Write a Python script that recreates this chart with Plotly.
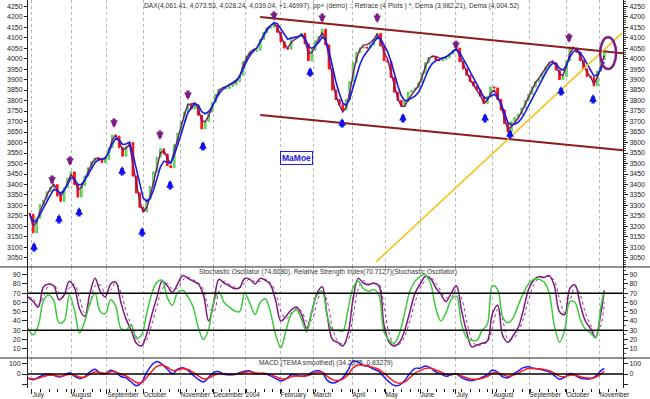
import plotly.graph_objects as go

# ---------------- data ----------------
price_day = list(range(1, 336, 2))
close = [3258, 3170, 3240, 3305, 3325, 3365, 3385, 3400, 3345, 3320,
         3385, 3430, 3460, 3400, 3340, 3395, 3440, 3480, 3510, 3525,
         3515, 3505, 3520, 3575, 3635, 3630, 3575, 3535, 3580, 3600,
         3440, 3360, 3290, 3270, 3330, 3390, 3460, 3530, 3570, 3545,
         3490, 3480, 3590, 3645, 3700, 3745, 3785, 3760, 3775, 3730,
         3665, 3700, 3745, 3790, 3830, 3855, 3855, 3858, 3868, 3875,
         3890, 3920, 3985, 4010, 4030, 4035, 4040, 4090, 4125, 4145,
         4150, 4160, 4125, 4080, 4050, 4045, 4100, 4100, 4105, 4120,
         4070, 3990, 4040, 4085, 4105, 4140, 4065, 3950, 3850, 3805,
         3780, 3755, 3805, 3890, 3980, 4030, 4050, 4055, 4050, 4065,
         4090, 4120, 4060, 3990, 3985, 3910, 3840, 3800, 3775, 3795,
         3840, 3848, 3860, 3885, 3930, 3980, 4005, 4005, 3995, 3990,
         3995, 4005, 4022, 4040, 4050, 3985, 3950, 3920, 3890, 3870,
         3850, 3820, 3785, 3820, 3865, 3860, 3805, 3755, 3690, 3650,
         3700, 3720, 3735, 3765, 3800, 3830, 3865, 3890, 3905, 3930,
         3960, 3978, 3980, 3945, 3900, 3915, 3990, 4055, 4050, 4030,
         3990, 3950, 3915, 3910, 3870, 3940, 3995, 4039]
first_open = 3262

osc_day = list(range(0, 334, 3)) + [335]
stoch_k = [66, 61, 55, 77, 80, 78, 63, 68, 83, 76,
           53, 45, 70, 86, 72, 66, 80, 82, 60, 42,
           30, 16, 13, 26, 47, 66, 83, 78, 71, 80,
           89, 86, 83, 80, 68, 40, 60, 85, 81, 78,
           75, 76, 86, 85, 80, 86, 84, 79, 62, 40,
           45, 52, 55, 47, 32, 50, 70, 77, 45, 20,
           17, 13, 26, 64, 86, 81, 79, 81, 78, 35,
           17, 13, 17, 30, 50, 70, 80, 88, 86, 76,
           69, 61, 70, 78, 52, 28, 12, 14, 16, 18,
           48, 57, 24, 17, 24, 33, 52, 74, 84, 88,
           87, 89, 78, 50, 47, 75, 79, 58, 40, 32,
           22, 48, 73]
rsi = [32, 25, 35, 62, 68, 62, 38, 40, 68, 52,
       27, 40, 59, 70, 50, 48, 63, 56, 32, 30,
       36, 21, 25, 48, 70, 82, 84, 65, 57, 71,
       73, 66, 55, 33, 20, 31, 61, 71, 60, 55,
       51, 50, 70, 59, 47, 60, 64, 49, 25, 11,
       30, 47, 52, 42, 28, 50, 68, 72, 45, 30,
       30, 29, 52, 76, 83, 75, 72, 74, 68, 28,
       19, 16, 27, 49, 72, 83, 88, 90, 81, 54,
       40, 49, 63, 67, 37, 22, 19, 19, 30, 36,
       78, 74, 44, 38, 43, 57, 70, 80, 85, 85,
       82, 70, 35, 17, 30, 61, 60, 42, 31, 27,
       22, 55, 73]
macd = [-40, -54, -33, -9, 0, -12, -29, -13, 13, -20,
        -43, -27, 20, 44, 6, 3, 35, 17, -23, -36,
        -75, -111, -80, 15, 85, 118, 90, 45, 3, 45,
        58, 35, -10, -50, -75, -30, 14, 22, -2, -8,
        -4, 12, 27, 28, 2, 3, 3, -17, -42, -65,
        -45, -9, -12, -22, -14, 15, 34, 16, -60, -84,
        -70, -35, 35, 121, 110, 80, 69, 45, 25, -28,
        -76, -108, -104, -60, 4, 53, 54, 74, 58, 20,
        1, -22, -6, -1, -34, -53, -61, -50, -31, -8,
        37, 18, -27, -35, -3, 29, 60, 68, 53, 48,
        35, 20, -15, -48, -30, 4, -12, -38, -45, -45,
        -20, 30, 53]

month_day = [2.3, 25.0, 45.9, 66.9, 88.4, 107.6, 126.2, 146.5, 165.7,
             188.4, 207.6, 227.9, 248.8, 270.3, 291.3, 312.8, 332.0]
month_label = ["July", "August", "September", "October", "November", "December",
               "2004", "February", "March", "April", "May", "June", "July",
               "August", "September", "October", "November"]

down_day = [14, 24.4, 50, 76.7, 93, 143, 171, 203, 248.8, 314.5]
down_price = [3398, 3488, 3669, 3612, 3802, 4179, 4169, 4169, 4040, 4074]
up_day = [3.5, 18, 29.7, 54.7, 66.3, 82.6, 101.7, 164, 182.6, 218, 265.7, 280.2, 309.9, 328.5]
up_price = [3126, 3260, 3293, 3488, 3198, 3421, 3607, 3960, 3717, 3741, 3741, 3664, 3869, 3831]

upper_channel_day = [135, 346]
upper_channel_price = [4198, 4025]
lower_channel_day = [135, 346]
lower_channel_price = [3731, 3563]
yellow_day = [202.3, 345.3]
yellow_price = [3031, 4121]
circle_day = [332.6, 341.9]
circle_price = [3950, 4102]

title_text = ("DAX(4,061.41, 4,073.53, 4,028.24, 4,039.04, +1.46997), pp+ (demo) :: "
              "Retrace (4 Plots ) *, Dema (3,982.21), Dema (4,004.52)")
stoch_text = ("Stochastic Oscillator (74.6080), Relative Strength Index(70.7127)"
              "(Stochastic Oscillator)")
macd_text = "MACD (TEMA smoothed) (34.2375, 0.83279)"

# ---------------- derived ----------------
opens = [first_open] + close[:-1]
highs = [max(o, c) for o, c in zip(opens, close)]
lows = [min(o, c) for o, c in zip(opens, close)]


def ema(vals, n):
    a = 2.0 / (n + 1)
    out = [vals[0]]
    for v in vals[1:]:
        out.append(out[-1] + a * (v - out[-1]))
    return out


def dema(vals, n):
    e1 = ema(vals, n)
    e2 = ema(e1, n)
    return [2 * a - b for a, b in zip(e1, e2)]


dema_fast = dema(close, 4)
dema_slow = dema(close, 8)
stoch_d = [stoch_k[0]] + [(a + b) / 2 for a, b in zip(stoch_k[:-1], stoch_k[1:])]
macd_sig = ema(macd, 3)

# ---------------- figure ----------------
FONT = "Liberation Sans"
XR = [0, 345.9]
main_dom = [0.3119, 1.0]
sto_dom = [0.0773, 0.3119]
mac_dom = [0.0, 0.0773]
main_r = [3007, 4279]
sto_r = [0, 98.3]
mac_r = [-131, 150]

fig = go.Figure()
fig.add_trace(go.Candlestick(
    x=price_day, open=opens, high=highs, low=lows, close=close,
    increasing=dict(line=dict(color="#4ccc4c", width=1), fillcolor="#8ee88e"),
    decreasing=dict(line=dict(color="#ff1010", width=1), fillcolor="#ff1010"),
    whiskerwidth=0, xaxis="x", yaxis="y", showlegend=False, hoverinfo="skip"))
fig.add_trace(go.Scatter(x=price_day, y=dema_fast, mode="lines",
                         line=dict(color="#7a1a66", width=1.4), xaxis="x", yaxis="y4",
                         showlegend=False))
fig.add_trace(go.Scatter(x=price_day, y=dema_slow, mode="lines",
                         line=dict(color="#1a1ae6", width=1.6), xaxis="x", yaxis="y4",
                         showlegend=False))

fig.add_trace(go.Scatter(x=osc_day, y=stoch_d, mode="lines", line_shape="spline",
                         line=dict(color="#9a2a9a", width=1, dash="dot"),
                         xaxis="x2", yaxis="y2", showlegend=False))
fig.add_trace(go.Scatter(x=osc_day, y=rsi, mode="lines", line_shape="spline",
                         line=dict(color="#3ec83e", width=1.5),
                         xaxis="x2", yaxis="y5", showlegend=False))
fig.add_trace(go.Scatter(x=osc_day, y=stoch_k, mode="lines", line_shape="spline",
                         line=dict(color="#7a1a7a", width=1.5),
                         xaxis="x2", yaxis="y2", showlegend=False))

fig.add_trace(go.Scatter(x=osc_day, y=macd_sig, mode="lines", line_shape="spline",
                         line=dict(color="#ff1a1a", width=1.5),
                         xaxis="x3", yaxis="y6", showlegend=False))
fig.add_trace(go.Scatter(x=osc_day, y=macd, mode="lines", line_shape="spline",
                         line=dict(color="#1a1aff", width=1.5),
                         xaxis="x3", yaxis="y3", showlegend=False))

tickfont = dict(family=FONT, size=7, color="#222")
xcommon = dict(range=XR, tickmode="array", tickvals=month_day, showgrid=True,
               gridcolor="#b8b8b8", griddash="dot", gridwidth=1, zeroline=False,
               showline=False, automargin=False)
ycommon = dict(showgrid=False, zeroline=False, showline=True, linecolor="#222",
               linewidth=1, tickcolor="#222", tickfont=tickfont, automargin=False,
               ticklabeloverflow="allow", tickmode="array", ticks="outside")
fig.update_layout(
    width=650, height=399, margin=dict(l=28, r=27, t=0, b=11, autoexpand=False),
    paper_bgcolor="white", plot_bgcolor="white",
    xaxis=dict(**xcommon, anchor="y", showticklabels=False, ticks="",
               rangeslider=dict(visible=False), matches="x3"),
    xaxis2=dict(**xcommon, anchor="y2", showticklabels=False, ticks="", matches="x3"),
    xaxis3=dict(**xcommon, anchor="y3", ticktext=month_label, ticks="outside",
                ticklen=5, tickcolor="#222", ticklabelposition="outside right",
                tickangle=0, ticklabeloverflow="allow",
                tickfont=dict(family=FONT, size=6.4, color="#222"),
                minor=dict(dtick=5, tick0=2.3, ticks="outside", ticklen=3, tickcolor="#222",
                           showgrid=False)),
    yaxis=dict(**ycommon, domain=main_dom, range=main_r,
               tickvals=list(range(3050, 4251, 50)), ticklen=3, anchor="x"),
    yaxis4=dict(**ycommon, range=main_r, overlaying="y", side="right", anchor="x",
                tickvals=list(range(3050, 4251, 50)), ticklen=4,
                minor=dict(dtick=10, ticks="outside", ticklen=2, tickcolor="#444")),
    yaxis2=dict(**ycommon, domain=sto_dom, range=sto_r,
                tickvals=list(range(10, 91, 10)), ticklen=5, anchor="x2"),
    yaxis5=dict(**ycommon, range=sto_r, overlaying="y2", side="right", anchor="x2",
                tickvals=list(range(10, 91, 10)), ticklen=4,
                minor=dict(dtick=5, ticks="outside", ticklen=2, tickcolor="#444")),
    yaxis3=dict(**ycommon, domain=mac_dom, range=mac_r, tickvals=[-100, 0, 100],
                ticktext=["", "0", "100"], ticklen=5, anchor="x3"),
    yaxis6=dict(**ycommon, range=mac_r, overlaying="y3", side="right", anchor="x3",
                tickvals=[-100, 0, 100], ticktext=["", "0", "100"], ticklen=4),
)

shapes = []
shapes.append(dict(type="line", xref="x", yref="y", x0=upper_channel_day[0],
                   x1=upper_channel_day[1], y0=upper_channel_price[0],
                   y1=upper_channel_price[1], line=dict(color="#8e1b1b", width=2)))
shapes.append(dict(type="line", xref="x", yref="y", x0=lower_channel_day[0],
                   x1=lower_channel_day[1], y0=lower_channel_price[0],
                   y1=lower_channel_price[1], line=dict(color="#8e1b1b", width=2)))
shapes.append(dict(type="line", xref="x", yref="y", x0=yellow_day[0], x1=yellow_day[1],
                   y0=yellow_price[0], y1=yellow_price[1],
                   line=dict(color="#f2c41c", width=1.6)))
shapes.append(dict(type="circle", xref="x", yref="y", x0=circle_day[0], x1=circle_day[1],
                   y0=circle_price[0], y1=circle_price[1],
                   line=dict(color="#7d1d86", width=2.5)))
for lvl in (70, 30):
    shapes.append(dict(type="line", xref="paper", yref="y2", x0=0, x1=1, y0=lvl, y1=lvl,
                       line=dict(color="black", width=1.5)))
shapes.append(dict(type="line", xref="paper", yref="y3", x0=0, x1=1, y0=0, y1=0,
                   line=dict(color="black", width=1.5)))
for yy in (main_dom[0], sto_dom[0]):
    shapes.append(dict(type="line", xref="paper", yref="paper", x0=-0.06, x1=1.06,
                       y0=yy, y1=yy, line=dict(color="#222", width=1)))
fig.update_layout(shapes=shapes)

ann = []
for d, p in zip(down_day, down_price):
    ann.append(dict(x=d, y=p, xref="x", yref="y", text="", showarrow=True, ax=0, ay=-11,
                    arrowhead=2, arrowsize=0.48, arrowwidth=3.2, arrowcolor="#7d1d86"))
for d, p in zip(up_day, up_price):
    ann.append(dict(x=d, y=p, xref="x", yref="y", text="", showarrow=True, ax=0, ay=11,
                    arrowhead=2, arrowsize=0.48, arrowwidth=3.2, arrowcolor="#1010ee"))
ann.append(dict(x=0.1933, y=0.9845, xref="paper", yref="paper", text=title_text,
                showarrow=False, xanchor="left", yanchor="middle", borderpad=0,
                font=dict(family=FONT, size=6.7, color="#333")))
ann.append(dict(x=0.2857, y=0.2977, xref="paper", yref="paper", text=stoch_text,
                showarrow=False, xanchor="left", yanchor="middle", borderpad=0,
                font=dict(family=FONT, size=6.7, color="#333")))
ann.append(dict(x=0.3866, y=0.0644, xref="paper", yref="paper", text=macd_text,
                showarrow=False, xanchor="left", yanchor="middle", borderpad=0,
                font=dict(family=FONT, size=6.7, color="#333")))
ann.append(dict(x=0.4513, y=0.5915, xref="paper", yref="paper", text="<b>MaMoe</b>",
                showarrow=False, xanchor="center", yanchor="middle",
                font=dict(family=FONT, size=8.5, color="#2020e0"),
                bordercolor="#2020e0", borderwidth=1, borderpad=1, bgcolor="white"))
fig.update_layout(annotations=ann)

fig.write_html("out.html", config={"displayModeBar": False},
               post_script="document.body.style.margin='0';"
                           "document.body.style.overflow='hidden';")
